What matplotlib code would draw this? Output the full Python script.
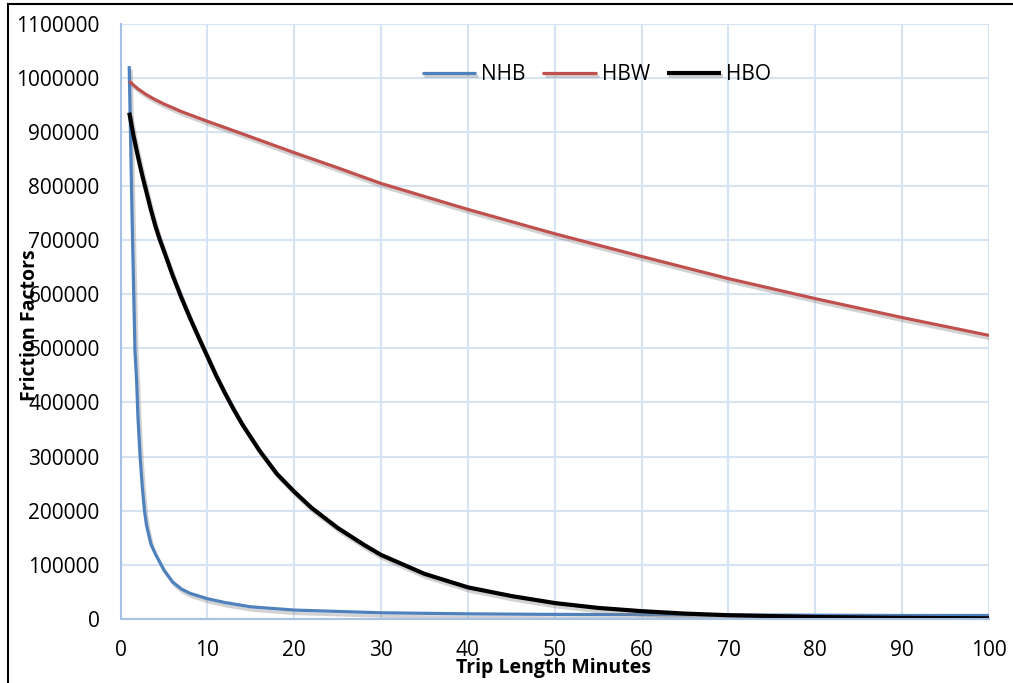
import matplotlib
matplotlib.use("Agg")
import matplotlib.pyplot as plt
import matplotlib.patheffects as pe
from matplotlib.lines import Line2D
from matplotlib.ticker import MultipleLocator, FuncFormatter

# values
nhb_x = [1, 1.33, 1.66, 1.85, 2, 2.25, 2.5, 2.75, 3, 3.5, 4, 4.6, 5, 6, 7, 8, 10,
         12, 15, 20, 30, 40, 50, 60, 70, 80, 90, 100]
nhb_y = [1022000, 740000, 496000, 440000, 375000, 300000, 245000, 200000, 172000,
         138000, 120000, 102000, 90000, 68000, 55000, 47000, 37000,
         30000, 22000, 16000, 11000, 9000, 8000, 7500, 7000, 6500, 6000, 6000]

hbw_x = [1, 2, 3, 4, 5, 6, 7, 8, 10, 14, 20, 25, 30, 40, 50, 60, 70, 80, 90, 100]
hbw_y = [994000, 980000, 969000, 960000, 952000, 945000, 938000, 932000, 920000,
         897000, 862000, 834000, 805000, 757000, 712000, 670000, 629000, 592000,
         557000, 524000]

hbo_x = [1, 1.5, 2, 2.5, 3, 3.5, 4, 4.5, 5, 6, 7, 8, 9, 10, 11, 12, 13, 14, 16, 18,
         20, 22, 25, 28, 30, 35, 40, 45, 50, 55, 60, 65, 70, 80, 90, 100]
hbo_y = [936000, 893000, 855000, 820000, 788000, 756000, 727000, 702000, 680000,
         635000, 594000, 556000, 520000, 485000, 450000, 418000, 388000, 360000,
         311000, 268000, 235000, 205000, 168000, 137000, 118000, 83000, 58000,
         42000, 29000, 20000, 14000, 9500, 6500, 3200, 1600, 800]

plt.rcParams['font.family'] = ['Open Sans', 'DejaVu Sans']

fig = plt.figure(figsize=(10.13, 6.83), dpi=100)
ax = fig.add_axes([0.119, 0.0941, 0.8573, 0.8708])

shadow = [pe.SimpleLineShadow(offset=(1.5, -2.5), shadow_color='gray', alpha=0.35),
          pe.Normal()]

ax.plot(nhb_x, nhb_y, color='#4F81BD', lw=2.3, label='NHB', path_effects=shadow,
        solid_capstyle='butt', solid_joinstyle='round')
ax.plot(hbw_x, hbw_y, color='#C0504D', lw=2.3, label='HBW', path_effects=shadow,
        solid_capstyle='butt', solid_joinstyle='round')
ax.plot(hbo_x, hbo_y, color='black', lw=3.0, label='HBO', path_effects=shadow,
        solid_capstyle='butt', solid_joinstyle='round')

ax.set_xlim(0, 100)
ax.set_ylim(0, 1100000)
ax.xaxis.set_major_locator(MultipleLocator(10))
ax.yaxis.set_major_locator(MultipleLocator(100000))
ax.yaxis.set_major_formatter(FuncFormatter(lambda v, p: f'{int(v)}'))

ax.grid(True, color='#D6E3F3', lw=1.5)
ax.set_axisbelow(True)
for s in ['top', 'right']:
    ax.spines[s].set_visible(False)
for s in ['left', 'bottom']:
    ax.spines[s].set_color('#A7C2E6')
    ax.spines[s].set_linewidth(1.5)
ax.tick_params(length=0, labelsize=15, pad=15)

# the y label sits over the tick labels, as in the original
ax.set_xlabel('Trip Length Minutes', fontsize=14, fontweight='bold')
ax.xaxis.set_label_coords(0.498, -0.066)
ax.set_ylabel('Friction Factors', fontsize=14, fontweight='bold')
ax.yaxis.set_label_coords(-0.093, 0.494)

ax.legend(loc='upper center', bbox_to_anchor=(0.548, 0.947), ncol=3, frameon=False,
          fontsize=15, handlelength=2.6, handletextpad=0.25, columnspacing=0.8,
          borderaxespad=0)

# frame around the chart
fig.add_artist(Line2D([8 / 1013, 8 / 1013], [0, 1 - 4 / 683], color='black', lw=1.5))
fig.add_artist(Line2D([8 / 1013, 1], [1 - 4 / 683, 1 - 4 / 683], color='black', lw=1.5))

fig.savefig('out.png', dpi=100)
